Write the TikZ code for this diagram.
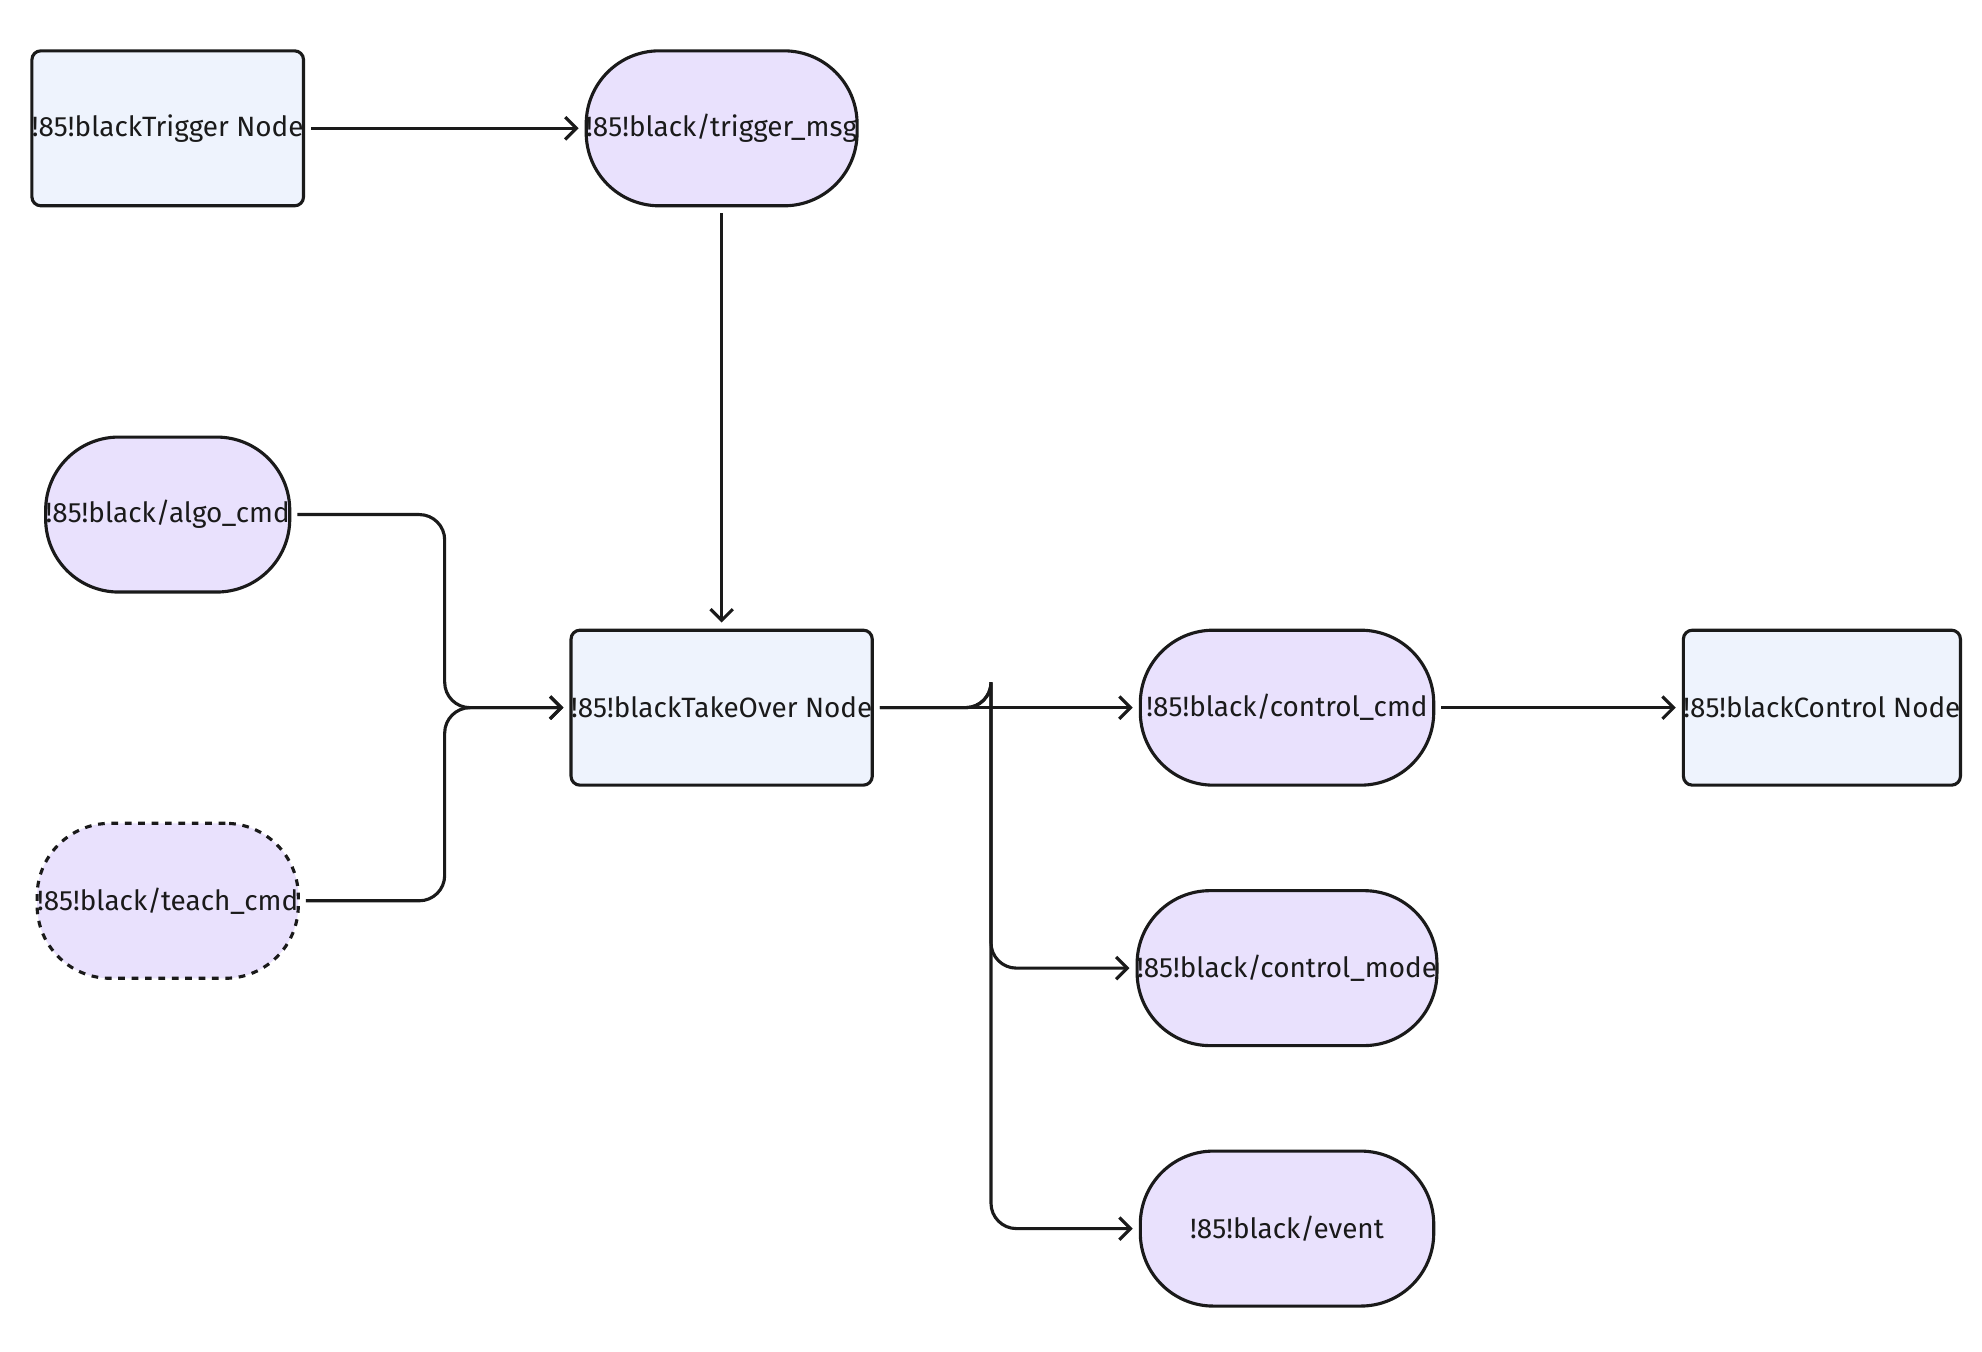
\documentclass[tikz,border=0pt]{standalone}
\usepackage{fontspec}
\setmainfont{Fira Sans}
\usetikzlibrary{arrows.meta}
\definecolor{rfill}{HTML}{EEF3FD}
\definecolor{sfill}{HTML}{E9E1FD}
\definecolor{ink}{HTML}{1A1A1A}
\begin{document}
\begin{tikzpicture}[x=0.02cm,y=-0.02cm,
  base/.style={draw=ink,line width=1.4pt,minimum height=2.44cm,font=\fontsize{12.5}{15}\selectfont\color{ink}!85!black,outer sep=0.12cm,inner sep=0pt},
  box/.style={base,fill=rfill,rounded corners=4pt,minimum width=3.74cm},
  pill/.style={base,fill=sfill,rounded corners=1.15cm,minimum width=3.74cm},
  wpill/.style={pill,minimum width=4.62cm},
  arr/.style={draw=ink,line width=1.4pt,-{Straight Barb[length=5pt,width=10pt]},rounded corners=0.4cm}]
\useasboundingbox (0,0) rectangle (1560,1064);
\node[box] (trig) at (132,101) {Trigger Node};
\node[pill] (tmsg) at (568,101) {/trigger\_msg};
\node[pill] (algo) at (132,405) {/algo\_cmd};
\node[box] (take) at (568,557) {TakeOver Node};
\node[pill,dashed] (teach) at (132,709) {/teach\_cmd};
\node[wpill] (ccmd) at (1013,557) {/control\_cmd};
\node[box] (ctrl) at (1434,557) {Control Node};
\node[wpill] (cmode) at (1013,762) {/control\_mode};
\node[wpill] (event) at (1013,967) {/event};
\coordinate (j1) at (350,557);
\coordinate (j2) at (780,557);
\draw[arr] (trig) -- (tmsg);
\draw[arr] (tmsg) -- (take);
\draw[arr] (algo.east) -| (j1) -- (take.west);
\draw[arr] (teach.east) -| (j1) -- (take.west);
\draw[arr] (take) -- (ccmd);
\draw[arr] (ccmd) -- (ctrl);
\draw[arr] (take.east) -| (j2) |- (cmode.west);
\draw[arr] (take.east) -| (j2) |- (event.west);
\end{tikzpicture}
\end{document}
